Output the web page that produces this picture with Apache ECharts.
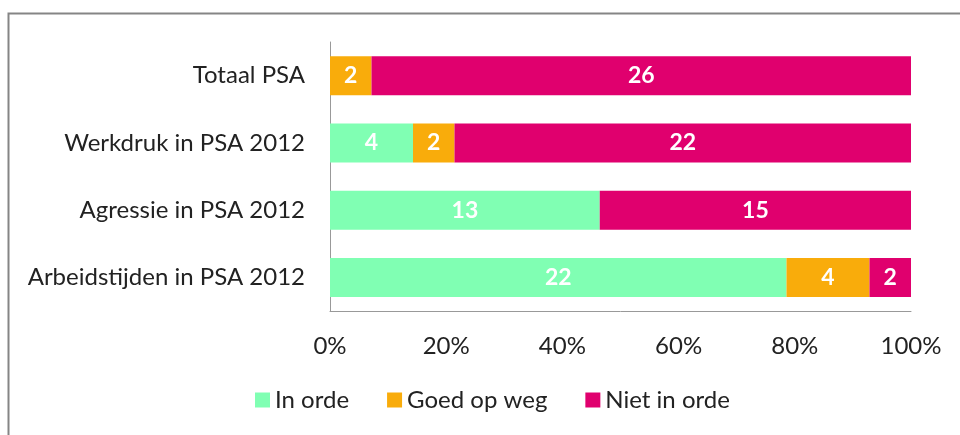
<!DOCTYPE html>
<html>
<head>
<meta charset="utf-8">
<script src="https://cdn.jsdelivr.net/npm/echarts@6/dist/echarts.min.js"></script>
<style>
  html, body { margin: 0; padding: 0; background: #fff; }
  #chart { width: 960px; height: 435px; }
</style>
</head>
<body>
<div id="chart"></div>
<script>
  // categorieën, van boven naar beneden
  var categories = ['Totaal PSA', 'Werkdruk in PSA 2012', 'Agressie in PSA 2012', 'Arbeidstijden in PSA 2012'];
  var inOrde = [0, 4, 13, 22];
  var goedOpWeg = [2, 2, 0, 4];
  var nietInOrde = [26, 22, 15, 2];
  var tickLabels = ['0%', '20%', '40%', '60%', '80%', '100%'];

  var totals = categories.map(function (c, i) {
    return inOrde[i] + goedOpWeg[i] + nietInOrde[i];
  });

  function toPct(arr) {
    return arr.map(function (v, i) {
      return { value: v / totals[i] * 100, count: v };
    });
  }

  var font = 'Lato, "Open Sans", sans-serif';

  function makeSeries(name, arr, color) {
    return {
      name: name,
      type: 'bar',
      stack: 'totaal',
      barWidth: 39,
      itemStyle: { color: color },
      label: {
        show: true,
        position: 'inside',
        color: '#fff',
        fontWeight: 'bold',
        fontSize: 23,
        fontFamily: font,
        formatter: function (p) {
          return p.data.count > 0 ? p.data.count : '';
        }
      },
      data: toPct(arr)
    };
  }

  var myChart = echarts.init(document.getElementById('chart'));
  myChart.setOption({
    animation: false,
    textStyle: { fontFamily: font },
    graphic: [{
      type: 'rect',
      shape: { x: 8.5, y: 13.5, width: 980, height: 440 },
      style: { fill: 'none', stroke: '#858585', lineWidth: 2 }
    }],
    grid: { left: 330, right: 49, top: 42, bottom: 124 },
    legend: {
      bottom: 18,
      left: 250,
      itemWidth: 15,
      itemHeight: 15,
      itemGap: 38,
      icon: 'rect',
      textStyle: { fontSize: 24, color: '#222', fontFamily: font },
      data: ['In orde', 'Goed op weg', 'Niet in orde']
    },
    xAxis: {
      type: 'value',
      min: 0,
      max: 100,
      interval: 20,
      axisLine: { show: true, lineStyle: { color: '#999' } },
      axisTick: { show: false },
      splitLine: { show: false },
      axisLabel: {
        fontSize: 24,
        color: '#222',
        margin: 23,
        formatter: function (v) { return tickLabels[v / 20]; }
      }
    },
    yAxis: {
      type: 'category',
      inverse: true,
      data: categories,
      axisLine: { show: true, lineStyle: { color: '#999' } },
      axisTick: { show: false },
      axisLabel: { fontSize: 24, color: '#222', margin: 25 }
    },
    series: [
      makeSeries('In orde', inOrde, '#80ffb3'),
      makeSeries('Goed op weg', goedOpWeg, '#f9ac0b'),
      makeSeries('Niet in orde', nietInOrde, '#e0006e')
    ]
  });
</script>
</body>
</html>
